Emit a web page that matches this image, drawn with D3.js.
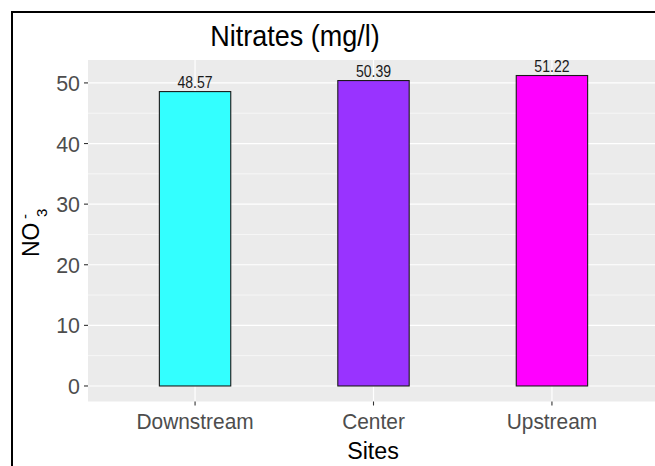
<!DOCTYPE html>
<html>
<head>
<meta charset="utf-8">
<script src="https://cdn.jsdelivr.net/npm/d3@7"></script>
<style>
  body { margin: 0; background: #fff; }
  text { font-family: "Liberation Sans", Arial, sans-serif; }
</style>
</head>
<body>
<div id="chart"></div>
<script>
// data
var sites = ["Downstream", "Center", "Upstream"];
var nitrates = [48.57, 50.39, 51.22];
var barColors = ["#33ffff", "#9933ff", "#ff00ff"];
var yTicks = [0, 10, 20, 30, 40, 50];
var yMinor = [5, 15, 25, 35, 45];

var width = 655, height = 466;
var panel = {left: 88, top: 60, right: 659, bottom: 401.5};

var svg = d3.select("#chart").append("svg")
    .attr("width", width)
    .attr("height", height);

// outer frame (cut off at right and bottom in the original)
svg.append("rect")
    .attr("x", 12).attr("y", 12)
    .attr("width", 700).attr("height", 500)
    .attr("fill", "none")
    .attr("stroke", "#000")
    .attr("stroke-width", 2);

// scales, ggplot style expansion
var ymax = d3.max(nitrates);
var y = d3.scaleLinear()
    .domain([-0.05 * ymax, ymax * 1.05])
    .range([panel.bottom, panel.top]);
var x = d3.scaleLinear()
    .domain([0.4, sites.length + 0.6])
    .range([panel.left, panel.right]);

// condensed text helper
function label(g, str, px, py, size, sx, anchor, fill) {
    return g.append("text")
        .attr("transform", "translate(" + px + "," + py + ") scale(" + sx + ",1)")
        .attr("text-anchor", anchor)
        .attr("font-size", size)
        .attr("fill", fill)
        .text(str);
}

// panel
svg.append("rect")
    .attr("x", panel.left).attr("y", panel.top)
    .attr("width", panel.right - panel.left)
    .attr("height", panel.bottom - panel.top)
    .attr("fill", "#ebebeb");

svg.selectAll(".minor").data(yMinor).enter().append("line")
    .attr("x1", panel.left).attr("x2", panel.right)
    .attr("y1", function(d) { return y(d); })
    .attr("y2", function(d) { return y(d); })
    .attr("stroke", "#fff").attr("stroke-width", 0.6);

svg.selectAll(".major").data(yTicks).enter().append("line")
    .attr("x1", panel.left).attr("x2", panel.right)
    .attr("y1", function(d) { return y(d); })
    .attr("y2", function(d) { return y(d); })
    .attr("stroke", "#fff").attr("stroke-width", 1.2);

svg.selectAll(".vmajor").data(sites).enter().append("line")
    .attr("x1", function(d, i) { return x(i + 1); })
    .attr("x2", function(d, i) { return x(i + 1); })
    .attr("y1", panel.top).attr("y2", panel.bottom)
    .attr("stroke", "#fff").attr("stroke-width", 1.2);

// bars
var bw = 0.4;
svg.selectAll(".bar").data(nitrates).enter().append("rect")
    .attr("x", function(d, i) { return x(i + 1 - bw / 2); })
    .attr("width", x(1 + bw / 2) - x(1 - bw / 2))
    .attr("y", function(d) { return y(d); })
    .attr("height", function(d) { return y(0) - y(d); })
    .attr("fill", function(d, i) { return barColors[i]; })
    .attr("stroke", "#1a1a1a")
    .attr("stroke-width", 1.1);

// value labels
nitrates.forEach(function(v, i) {
    label(svg, v.toFixed(2), x(i + 1), y(v) - 4, 16, 0.88, "middle", "#1a1a1a");
});

// y axis
yTicks.forEach(function(t) {
    svg.append("line")
        .attr("x1", panel.left - 4).attr("x2", panel.left)
        .attr("y1", y(t)).attr("y2", y(t))
        .attr("stroke", "#333").attr("stroke-width", 1.1);
    label(svg, t, panel.left - 8, y(t) + 8, 23, 0.93, "end", "#4d4d4d");
});

// x axis
sites.forEach(function(s, i) {
    svg.append("line")
        .attr("x1", x(i + 1)).attr("x2", x(i + 1))
        .attr("y1", panel.bottom).attr("y2", panel.bottom + 4)
        .attr("stroke", "#333").attr("stroke-width", 1.1);
    label(svg, s, x(i + 1), 429, 22, 0.95, "middle", "#4d4d4d");
});

// titles
label(svg, "Nitrates (mg/l)", 295, 46, 30, 0.9, "middle", "#000");
label(svg, "Sites", 373, 459, 24, 0.97, "middle", "#000");

// NO3- y label, rotated
var yt = svg.append("g").attr("transform", "translate(38.5,257) rotate(-90)");
yt.append("text").attr("font-size", 23).attr("fill", "#000").text("NO");
yt.append("text").attr("x", 40).attr("y", 8.5).attr("font-size", 15).attr("fill", "#000").text("3");
yt.append("text").attr("x", 38).attr("y", -9).attr("font-size", 15).attr("fill", "#000").text("-");
</script>
</body>
</html>
